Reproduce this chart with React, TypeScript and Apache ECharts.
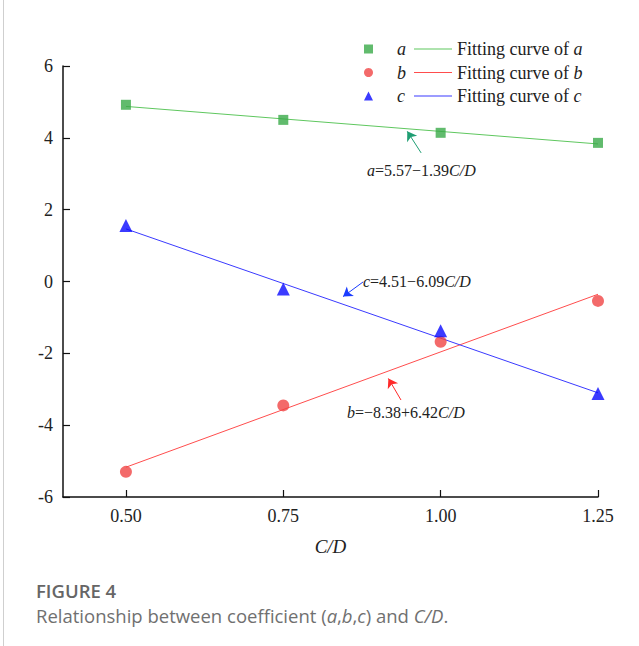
import React, { useEffect, useRef } from "react";
import * as echarts from "echarts";

const xTicks = [0.5, 0.75, 1.0, 1.25];
const cdValues = [0.5, 0.75, 1.0, 1.25];
const aValues = [4.92, 4.5, 4.14, 3.86];
const bValues = [-5.3, -3.45, -1.68, -0.54];
const cValues = [1.56, -0.21, -1.37, -3.12];
// fitted line endpoints (x = 0.50 and x = 1.25)
const fitX = [0.5, 1.25];
const aFit = [4.875, 3.83];
const bFit = [-5.17, -0.355];
const cFit = [1.465, -3.1];
// annotation arrows: [tailX, tailY, headX, headY]
const aArrow = [0.969, 3.58, 0.947, 4.18];
const bArrow = [0.937, -3.3, 0.917, -2.7];
const cArrow = [0.877, -0.01, 0.845, -0.42];

const SERIF = "Liberation Serif";
const SANS = "Open Sans";
const richLegend = {
  i: { fontStyle: "italic", fontFamily: SERIF, fontSize: 18, color: "#222" },
};
const richNote = {
  i: { fontStyle: "italic", fontFamily: SERIF, fontSize: 16, color: "#222" },
};
const richTick = {
  t: { fontFamily: SERIF, fontSize: 18, color: "#222" },
};

const pairs = (xs: number[], ys: number[]) => xs.map((x, i) => [x, ys[i]]);

export default function App() {
  const ref = useRef<HTMLDivElement>(null);
  useEffect(() => {
    if (!ref.current) return;
    const chart = echarts.init(ref.current, undefined, { renderer: "svg" });
    const arrow = (arr: number[], color: string) => ({
      silent: true,
      symbol: ["none", "arrow"],
      symbolSize: 9,
      lineStyle: { color, width: 1, type: "solid" },
      itemStyle: { color },
      label: { show: false },
      data: [[{ coord: [arr[0], arr[1]] }, { coord: [arr[2], arr[3]] }]],
    });
    const labelStyle = { fontFamily: SERIF, fontSize: 18, color: "#222" };
    chart.setOption({
      animation: false,
      backgroundColor: "#fff",
      textStyle: { fontFamily: SERIF },
      grid: { left: 63, right: 41, top: 66, bottom: 149 },
      legend: [
        {
          left: 364,
          top: 40,
          padding: 0,
          orient: "vertical",
          itemWidth: 9,
          itemHeight: 9,
          itemGap: 5.5,
          data: ["a", "b", "c"],
          formatter: (n: string) => `{i|${n}}`,
          textStyle: { ...labelStyle, lineHeight: 18, padding: [0, 0, 0, 19], rich: richLegend },
        },
        {
          left: 414,
          top: 40,
          padding: 0,
          orient: "vertical",
          icon: "rect",
          itemWidth: 38,
          itemHeight: 1.2,
          itemGap: 5.5,
          data: ["Fitting curve of a", "Fitting curve of b", "Fitting curve of c"],
          formatter: (n: string) => n.replace(/of (\w)$/, "of {i|$1}"),
          textStyle: { ...labelStyle, lineHeight: 18, padding: [0, 0, 0, 0], rich: richLegend },
        },
      ],
      xAxis: {
        type: "value",
        min: 0.4,
        max: 1.25,
        name: "C/D",
        nameLocation: "middle",
        nameGap: 40,
        nameTextStyle: { ...labelStyle, fontSize: 19, fontStyle: "italic" },
        axisLine: { show: true, onZero: false, lineStyle: { color: "#111", width: 1.5 } },
        axisTick: { show: true, inside: true, length: 7, customValues: xTicks, lineStyle: { color: "#111", width: 1.2 } },
        axisLabel: {
          customValues: xTicks,
          formatter: (v: number) => `{t|${v.toFixed(2)}}`,
          ...labelStyle,
          rich: richTick,
          margin: 10,
        },
        splitLine: { show: false },
      },
      yAxis: {
        type: "value",
        min: -6,
        max: 6,
        interval: 2,
        axisLine: { show: true, onZero: false, lineStyle: { color: "#111", width: 1.5 } },
        axisTick: { show: true, inside: true, length: 7, lineStyle: { color: "#111", width: 1.2 } },
        axisLabel: { ...labelStyle, rich: richTick, formatter: (v: number) => `{t|${v}}`, margin: 10 },
        splitLine: { show: false },
      },
      series: [
        {
          name: "Fitting curve of a",
          type: "line",
          data: pairs(fitX, aFit),
          symbol: "none",
          itemStyle: { color: "#5fc75f" },
          lineStyle: { color: "#5fc75f", width: 1 },
          markLine: arrow(aArrow, "#1f9e73"),
          z: 2,
        },
        {
          name: "Fitting curve of b",
          type: "line",
          data: pairs(fitX, bFit),
          symbol: "none",
          itemStyle: { color: "#ff4d4d" },
          lineStyle: { color: "#ff4d4d", width: 1 },
          markLine: arrow(bArrow, "#ff2a2a"),
          z: 2,
        },
        {
          name: "Fitting curve of c",
          type: "line",
          data: pairs(fitX, cFit),
          symbol: "none",
          itemStyle: { color: "#3a3aff" },
          lineStyle: { color: "#3a3aff", width: 1 },
          markLine: arrow(cArrow, "#1a3cff"),
          z: 2,
        },
        {
          name: "a",
          type: "scatter",
          data: pairs(cdValues, aValues),
          symbol: "rect",
          symbolSize: 10,
          itemStyle: { color: "#3aaa48" },
          z: 3,
        },
        {
          name: "b",
          type: "scatter",
          data: pairs(cdValues, bValues),
          symbol: "circle",
          symbolSize: 12,
          itemStyle: { color: "#f04545" },
          z: 3,
        },
        {
          name: "c",
          type: "scatter",
          data: pairs(cdValues, cValues),
          symbol: "triangle",
          symbolSize: 13,
          itemStyle: { color: "#0a0aff" },
          z: 3,
        },
      ],
      graphic: [
        { type: "line", shape: { x1: 3.5, y1: 0, x2: 3.5, y2: 646 }, style: { stroke: "#cfcfcf", lineWidth: 1 } },
        {
          type: "text",
          x: 367,
          y: 170,
          style: { text: "{i|a}=5.57−1.39{i|C/D}", rich: richNote, fontFamily: SERIF, fontSize: 16, fill: "#222", verticalAlign: "middle" },
        },
        {
          type: "text",
          x: 363,
          y: 281,
          style: { text: "{i|c}=4.51−6.09{i|C/D}", rich: richNote, fontFamily: SERIF, fontSize: 16, fill: "#222", verticalAlign: "middle" },
        },
        {
          type: "text",
          x: 347,
          y: 412,
          style: { text: "{i|b}=−8.38+6.42{i|C/D}", rich: richNote, fontFamily: SERIF, fontSize: 16, fill: "#222", verticalAlign: "middle" },
        },
        {
          type: "text",
          x: 36,
          y: 590,
          style: { text: "FIGURE 4", fontFamily: SANS, fontWeight: 600, fontSize: 18.5, fill: "#666", verticalAlign: "middle" },
        },
        {
          type: "text",
          x: 36,
          y: 615,
          style: {
            text: "Relationship between coefficient ({it|a},{it|b},{it|c}) and {it|C/D}.",
            fontFamily: SANS,
            fontSize: 18.5,
            fill: "#707070",
            verticalAlign: "middle",
            rich: {
              it: { fontStyle: "italic", fontFamily: SANS, fontSize: 18.5, color: "#707070" },
            },
          },
        },
      ],
    });
    return () => chart.dispose();
  }, []);
  return (
    <div
      ref={ref}
      style={{ position: "absolute", left: 0, top: 0, width: 639, height: 646, background: "#fff" }}
    />
  );
}
